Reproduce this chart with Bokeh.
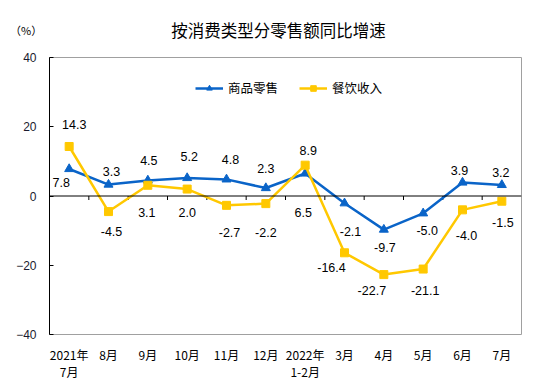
from bokeh.plotting import figure
from bokeh.models import (Range1d, FixedTicker, Span, Legend, LegendItem,
                          ColumnDataSource, Div)
from bokeh.layouts import column
from bokeh.core.properties import value
from bokeh.embed import file_html
from bokeh.resources import INLINE

# ---- data ----
categories = ["2021年\n7月", "8月", "9月", "10月", "11月", "12月",
              "2022年\n1-2月", "3月", "4月", "5月", "6月", "7月"]
retail = [7.8, 3.3, 4.5, 5.2, 4.8, 2.3, 6.5, -2.1, -9.7, -5.0, 3.9, 3.2]
catering = [14.3, -4.5, 3.1, 2.0, -2.7, -2.2, 8.9, -16.4, -22.7, -21.1, -4.0, -1.5]
y_ticks = [-40, -20, 0, 20, 40]
title_text = "按消费类型分零售额同比增速"
unit_text = "（%）"
series_names = ["商品零售", "餐饮收入"]

# label placement (screen px offsets: dx, dy; dy positive = down)
retail_dx = [-8, 3, 1, 2, 4, 0, -2, 6, 1, 4, -3, -1]
retail_dy = [14, -13, -20, -21, -20, -20, 39, 28, 18, 17, -12, -12]
catering_dx = [5, 3, -1, 0, 3, 0, 3, -13, -12, 2, 4, 1]
catering_dy = [-22, 20, 27, 23, 27, 29, -15, 15, 16, 21, 26, 21]

BLUE = "#0A64C8"
YELLOW = "#FFC800"
CJK = "Noto Sans CJK SC"
LAT = "Liberation Sans"

n = len(categories)
xs = [i + 0.5 for i in range(n)]

# header row with unit and title
header = Div(
    text=(
        '<div style="position:relative;width:551px;height:49px;">'
        f'<span style="position:absolute;left:10px;top:22px;font-family:\'{CJK}\';'
        f'font-size:11px;line-height:16px;color:#000;white-space:nowrap;">{unit_text}</span>'
        f'<span style="position:absolute;left:3px;top:19px;width:551px;text-align:center;'
        f'font-family:\'{CJK}\';font-size:16.5px;line-height:22px;color:#000;'
        f'white-space:nowrap;">{title_text}</span>'
        '</div>'
    ),
    width=551, height=49, margin=(0, 0, 0, 0),
)

p = figure(width=551, height=338, x_range=Range1d(0, n),
           y_range=Range1d(y_ticks[0], y_ticks[-1]),
           output_backend="svg", toolbar_location=None,
           min_border_left=49, min_border_right=30, min_border_top=8, min_border_bottom=53,
           margin=(0, 0, 0, 0))
p.xgrid.visible = False
p.ygrid.visible = False
p.outline_line_color = "#A0A0A0"
p.outline_line_width = 1
p.background_fill_color = "white"
p.border_fill_color = "white"

# y axis
p.yaxis.ticker = FixedTicker(ticks=y_ticks)
p.yaxis.axis_line_color = "black"
p.yaxis.major_tick_in = 4
p.yaxis.major_tick_out = 0
p.yaxis.major_tick_line_color = "black"
p.yaxis.minor_tick_line_color = None
p.yaxis.major_label_standoff = 13
p.yaxis.major_label_text_font = LAT
p.yaxis.major_label_text_font_size = "12px"
p.yaxis.major_label_text_color = "#1a1a2e"

# x axis
p.xaxis.ticker = FixedTicker(ticks=xs)
p.xaxis.major_label_overrides = {x: c for x, c in zip(xs, categories)}
p.xaxis.axis_line_color = None
p.xaxis.major_tick_line_color = None
p.xaxis.minor_tick_line_color = None
p.xaxis.major_label_standoff = 5
p.xaxis.major_label_text_font = CJK
p.xaxis.major_label_text_font_size = "12px"
p.xaxis.major_label_text_line_height = 1.0
p.xaxis.major_label_text_color = "black"

# zero line with category boundary ticks
p.add_layout(Span(location=0, dimension="width", line_color="black", line_width=1))
tick_len = 4 * (y_ticks[-1] - y_ticks[0]) / 277.0
bounds = list(range(1, n))
p.segment(x0=bounds, y0=[0] * len(bounds), x1=bounds, y1=[-tick_len] * len(bounds),
          line_color="black", line_width=1)

# series
bl = p.line(xs, retail, line_color=BLUE, line_width=2.5)
bs = p.scatter(xs, retail, marker="triangle", size=9, fill_color=BLUE, line_color=BLUE)
yl = p.line(xs, catering, line_color=YELLOW, line_width=2.5)
ys = p.scatter(xs, catering, marker="square", size=8, fill_color=YELLOW, line_color=YELLOW)

# data labels
src = ColumnDataSource(dict(
    x=xs + xs,
    y=retail + catering,
    t=["%.1f" % v for v in retail] + ["%.1f" % v for v in catering],
    dx=retail_dx + catering_dx,
    dy=retail_dy + catering_dy,
))
p.text(x="x", y="y", text="t", x_offset="dx", y_offset="dy", source=src,
       text_align="center", text_baseline="middle",
       text_font=value(LAT), text_font_size="12.5px", text_color="black")

# legend
legend = Legend(items=[LegendItem(label=series_names[0], renderers=[bl, bs]),
                       LegendItem(label=series_names[1], renderers=[yl, ys])],
                orientation="horizontal", location=(146, 237),
                label_text_font=CJK, label_text_font_size="12.5px", label_text_color="black",
                glyph_width=28, glyph_height=14, label_height=14, label_standoff=5,
                spacing=21, padding=0, margin=0,
                border_line_color=None, background_fill_alpha=0)
p.add_layout(legend)

layout = column(header, p, spacing=0, margin=(0, 0, 0, 0))
open("out.html", "w").write(file_html(layout, INLINE))
